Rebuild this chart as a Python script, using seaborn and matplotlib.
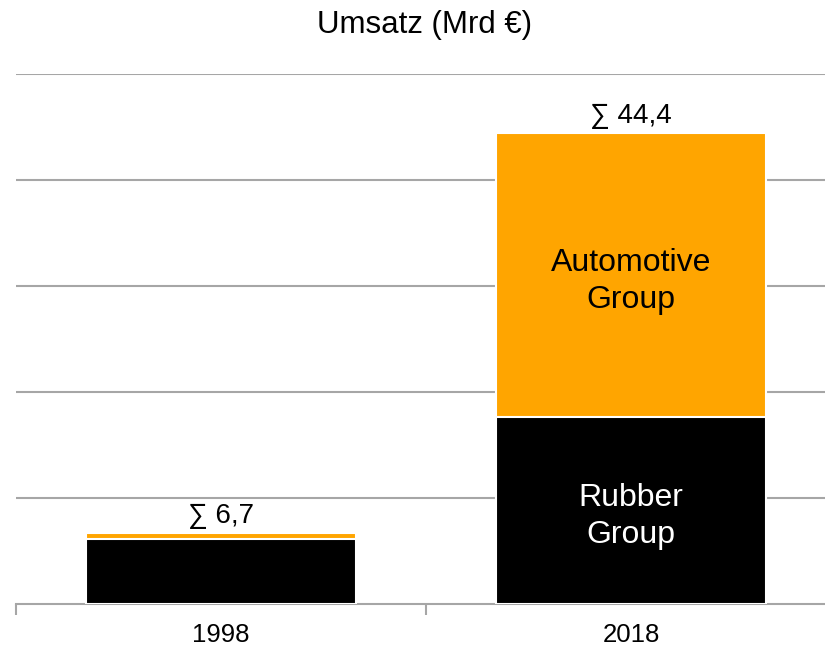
import matplotlib
matplotlib.use('Agg')

import numpy as np
import pandas as pd
import matplotlib.pyplot as plt
import seaborn as sns

# Daten
years = ['1998', '2018']
rubber = [6.1, 17.6]
automotive = [0.6, 26.8]
totals = ['6,7', '44,4']

sns.set_style('white')
plt.rcParams['font.family'] = ['Liberation Sans', 'DejaVu Sans']
plt.rcParams['text.color'] = 'black'
plt.rcParams['xtick.color'] = 'black'

df = pd.DataFrame({
    'Jahr': years,
    'Rubber': rubber,
    'Automotive': automotive,
})
df['Gesamt'] = df['Rubber'] + df['Automotive']

fig = plt.figure(figsize=(8.25, 6.46), dpi=100)
ax = fig.add_axes([16 / 825, 42 / 646, 809 / 825, 530 / 646])

grid_color = '#a6a6a6'

# gestapelt: erst Gesamt (orange), dann Rubber (schwarz) darüber
sns.barplot(data=df, x='Jahr', y='Gesamt', color='#ffa500', saturation=1,
            width=0.66, edgecolor='white', linewidth=1.5, ax=ax, zorder=3)
sns.barplot(data=df, x='Jahr', y='Rubber', color='black', saturation=1,
            width=0.66, edgecolor='white', linewidth=1.5, ax=ax, zorder=4)

ax.set_yticks(np.arange(10, 51, 10))
ax.yaxis.grid(True, color=grid_color, linewidth=1.5, zorder=0)
ax.tick_params(axis='y', left=False, labelleft=False)
ax.set_xlabel('')
ax.set_ylabel('')

for s in ['top', 'right', 'left']:
    ax.spines[s].set_visible(False)
ax.spines['bottom'].set_color(grid_color)
ax.spines['bottom'].set_linewidth(1.5)

ax.set_xticks([-0.5, 0.5], minor=True)
ax.tick_params(axis='x', which='minor', bottom=True, length=8, width=1.5,
               color=grid_color, direction='out')
ax.tick_params(axis='x', which='major', length=0, labelsize=18.5, pad=14,
               labelcolor='black')

ax.set_xlim(-0.5, 1.473)
ax.set_ylim(0, 50)

# Summen
for i, t in enumerate(totals):
    ax.text(i, df['Gesamt'][i] + 0.4, '∑ ' + t, ha='center', va='bottom',
            fontsize=20)

# Beschriftung in den Balken (2018)
ax.text(1, rubber[1] / 2 - 0.55, 'Rubber\nGroup', ha='center', va='center',
        color='white', fontsize=23, zorder=5, linespacing=1.3)
ax.text(1, rubber[1] + automotive[1] / 2 - 0.55, 'Automotive\nGroup',
        ha='center', va='center', color='black', fontsize=23, zorder=5,
        linespacing=1.3)

fig.text(425 / 825, 1 - 25 / 646, 'Umsatz (Mrd €)', ha='center', va='center',
         fontsize=22.5)

plt.savefig('out.png', dpi=100)
